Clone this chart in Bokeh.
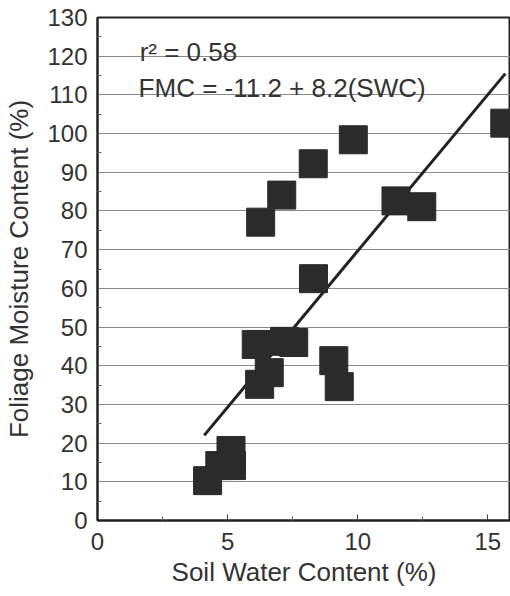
from bokeh.plotting import figure
from bokeh.models import Range1d, FixedTicker, Label
from bokeh.embed import file_html
from bokeh.resources import INLINE

# Data
swc = [4.23, 4.70, 5.15, 5.13, 6.10, 6.23, 6.60, 7.19, 7.54, 6.27, 7.08, 8.29, 8.30, 9.08, 9.29, 9.83, 11.47, 12.46, 15.65]
fmc = [10.3, 14.2, 14.2, 18.1, 45.5, 35.2, 38.2, 46.3, 46.0, 77.1, 84.1, 92.2, 62.5, 41.3, 34.6, 98.4, 82.6, 81.1, 102.7]

fit_x = [4.10, 15.67]
fit_y = [22.0, 115.5]

x_ticks = [0, 5, 10, 15]
y_ticks = list(range(0, 131, 10))

r2_text = "r² = 0.58"
eq_text = "FMC = -11.2 + 8.2(SWC)"

FONT = "Liberation Sans"
TXT = "#333333"

p = figure(width=510, height=596, output_backend="svg", toolbar_location=None,
           x_range=Range1d(0, 15.87), y_range=Range1d(0, 130),
           min_border_left=97, min_border_right=0, min_border_top=17, min_border_bottom=76)

p.background_fill_color = "white"
p.border_fill_color = "white"
p.outline_line_color = "#222222"
p.outline_line_width = 2

p.xgrid.visible = False
p.ygrid.ticker = FixedTicker(ticks=y_ticks)
p.ygrid.grid_line_color = "#8a8a8a"
p.ygrid.grid_line_width = 1

p.xaxis.ticker = FixedTicker(ticks=x_ticks, minor_ticks=[2.5, 7.5, 12.5])
p.yaxis.ticker = FixedTicker(ticks=y_ticks, minor_ticks=[v + 5 for v in y_ticks[:-1]])

for ax in (p.xaxis, p.yaxis):
    ax.axis_line_color = "#222222"
    ax.axis_line_width = 2
    ax.major_tick_in = 6
    ax.major_tick_out = 0
    ax.minor_tick_in = 4
    ax.minor_tick_out = 0
    ax.major_tick_line_color = "#444444"
    ax.minor_tick_line_color = "#666666"
    ax.major_label_text_font = FONT
    ax.major_label_text_font_size = "24px"
    ax.major_label_text_color = TXT
    ax.axis_label_text_font = FONT
    ax.axis_label_text_font_size = "26px"
    ax.axis_label_text_font_style = "normal"
    ax.axis_label_text_color = TXT

p.yaxis.major_tick_in = 0
p.xaxis.major_label_standoff = 12
p.yaxis.major_label_standoff = 10
p.xaxis.axis_label = "Soil Water Content (%)"
p.yaxis.axis_label = "Foliage Moisture Content (%)"
p.xaxis.axis_label_standoff = 4
p.yaxis.axis_label_standoff = 10

p.line(fit_x, fit_y, line_color="#222222", line_width=3)
p.scatter(swc, fmc, marker="square", size=28, fill_color="#2b2b2b", line_color="#2b2b2b")

p.add_layout(Label(x=1.62, y=121.2, text=r2_text, text_font=FONT, text_font_size="26px",
                   text_color=TXT, text_baseline="alphabetic"))
p.add_layout(Label(x=1.58, y=111.9, text=eq_text, text_font=FONT, text_font_size="26px",
                   text_color=TXT, text_baseline="alphabetic"))

open("out.html", "w").write(file_html(p, INLINE))
